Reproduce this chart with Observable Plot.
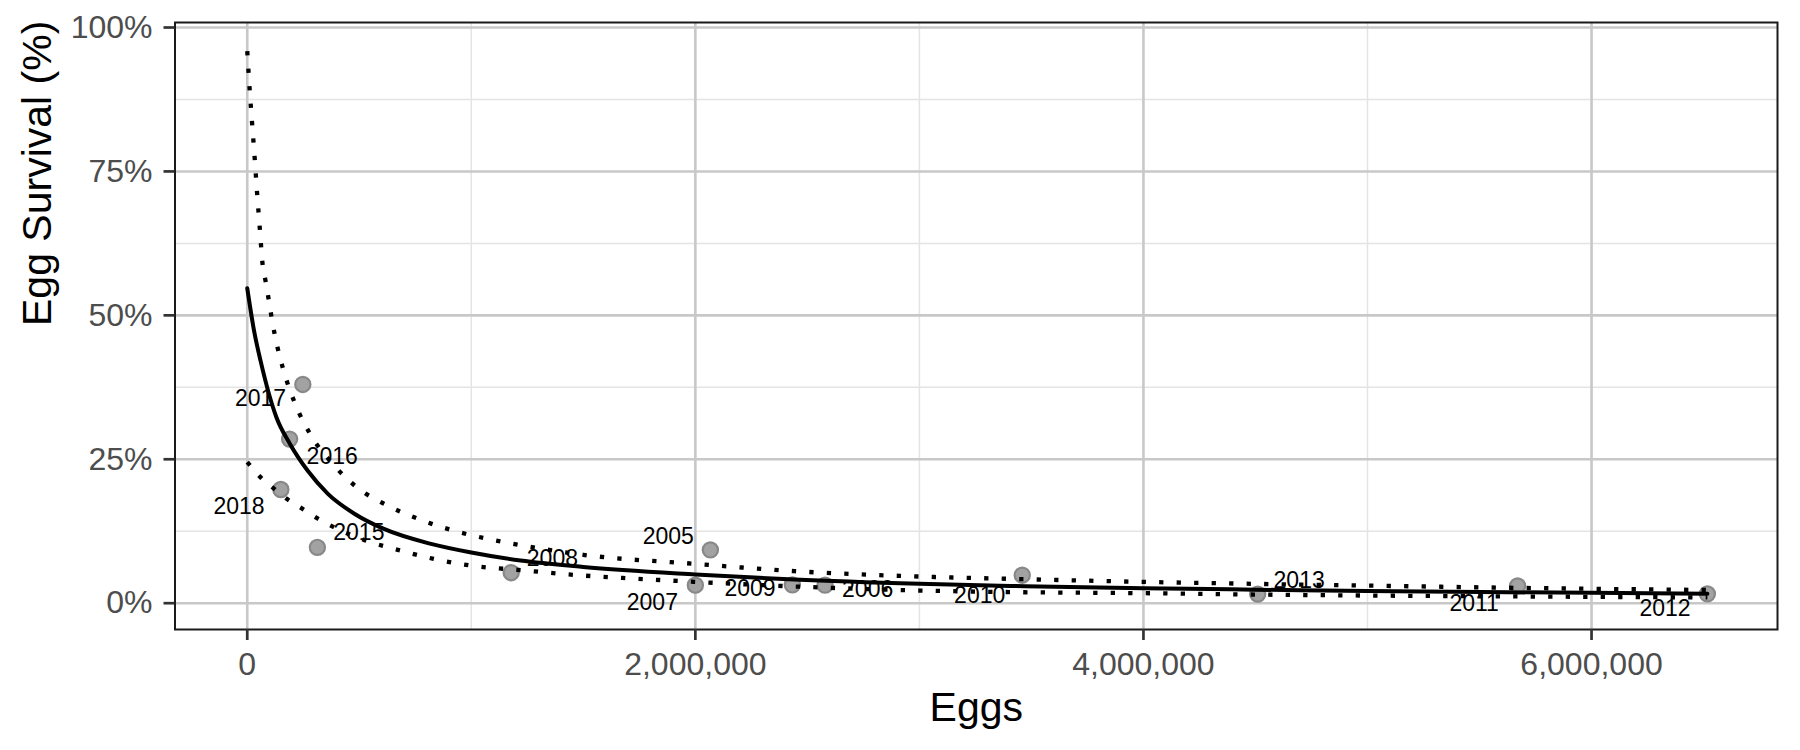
<!DOCTYPE html>
<html>
<head>
<meta charset="utf-8">
<script src="https://cdn.jsdelivr.net/npm/d3@7"></script>
<script src="https://cdn.jsdelivr.net/npm/@observablehq/plot@0.6"></script>
<style>
  html, body { margin: 0; padding: 0; background: #ffffff; }
  #chart svg { font-family: "Liberation Sans", Arial, Helvetica, sans-serif; }
</style>
</head>
<body>
<div id="chart"></div>
<script>
// ---- Observed points (eggs, survival fraction) ----
const years    = ["2017", "2016", "2018", "2015", "2008", "2005", "2007", "2009", "2006", "2010", "2013", "2011", "2012"];
const eggs     = [248000, 189000, 150000, 313000, 1178000, 2067000, 2000000, 2433000, 2579000, 3459000, 4510000, 5670000, 6517000];
const survival = [0.380, 0.285, 0.1975, 0.097, 0.053, 0.0926, 0.0313, 0.0318, 0.0313, 0.0486, 0.0158, 0.030, 0.0162];

// ---- Label anchor positions (data units) ----
const labelEggs     = [59000, 379000, -37000, 498000, 1362000, 1879000, 1808000, 2244000, 2769000, 3269000, 4695000, 5476000, 6328000];
const labelSurvival = [0.355, 0.255, 0.167, 0.123, 0.077, 0.116, 0.0017, 0.026, 0.023, 0.0133, 0.039, -0.001, -0.010];

// ---- Fitted curve ----
const fitEggs     = [0, 30000, 60000, 130000, 190000, 270000, 360000, 480000, 610000, 820000, 1000000, 1220000, 1500000, 2000000, 2440000, 3000000, 3470000, 4000000, 4500000, 5000000, 6000000, 6517000];
const fitSurvival = [0.547, 0.474, 0.420, 0.323, 0.277, 0.230, 0.190, 0.155, 0.129, 0.103, 0.088, 0.074, 0.063, 0.050, 0.041, 0.0336, 0.0295, 0.026, 0.0235, 0.021, 0.018, 0.0165];

// ---- Upper confidence bound ----
const upperEggs     = [0, 10000, 21000, 33000, 44000, 56000, 68000, 82000, 95000, 108000, 122000, 160000, 211000, 282000, 379000, 490000, 624000, 773000, 921000, 1070000, 1233000, 1500000, 2000000, 2444000, 3000000, 3469000, 4000000, 4495000, 5000000, 6000000, 6517000];
const upperSurvival = [0.959, 0.897, 0.837, 0.774, 0.712, 0.651, 0.590, 0.559, 0.529, 0.498, 0.468, 0.407, 0.349, 0.293, 0.243, 0.201, 0.170, 0.145, 0.126, 0.112, 0.100, 0.084, 0.0683, 0.0556, 0.0463, 0.0417, 0.037, 0.0336, 0.0305, 0.025, 0.023];

// ---- Lower confidence bound ----
const lowerEggs     = [0, 59000, 119000, 181000, 250000, 317000, 386000, 527000, 683000, 832000, 996000, 1233000, 1464000, 1674000, 2000000, 2444000, 3000000, 3469000, 4000000, 4495000, 5000000, 6000000, 6517000];
const lowerSurvival = [0.245, 0.219, 0.199, 0.180, 0.163, 0.1465, 0.132, 0.109, 0.0915, 0.077, 0.0655, 0.057, 0.049, 0.044, 0.037, 0.029, 0.022, 0.019, 0.0174, 0.015, 0.0133, 0.011, 0.010];

// ---- Axis ticks ----
const xTicks = [0, 2000000, 4000000, 6000000];
const xMinor = [1000000, 3000000, 5000000];
const yTicks = [0, 0.25, 0.5, 0.75, 1];
const yMinor = [0.125, 0.375, 0.625, 0.875];

// Tables built from the arrays
const points = years.map((yr, i) => ({year: yr, eggs: eggs[i], survival: survival[i]}));
const labels = years.map((yr, i) => ({year: yr, eggs: labelEggs[i], survival: labelSurvival[i]}));
const fit    = fitEggs.map((e, i) => ({eggs: e, survival: fitSurvival[i]}));
const upper  = upperEggs.map((e, i) => ({eggs: e, survival: upperSurvival[i]}));
const lower  = lowerEggs.map((e, i) => ({eggs: e, survival: lowerSurvival[i]}));

const FONT = "Liberation Sans, Arial, Helvetica, sans-serif";
const dotted = {stroke: "#000000", strokeWidth: 4.3, strokeDasharray: "4.3,13.2", strokeLinecap: "butt", curve: "monotone-x"};

const chart = Plot.plot({
  width: 1800,
  height: 750,
  marginLeft: 174.5,
  marginRight: 23,
  marginTop: 22,
  marginBottom: 121,
  style: {fontFamily: FONT, background: "#ffffff", overflow: "visible"},
  x: {domain: [-322500, 6830000], label: null},
  y: {domain: [-0.0457, 1.0087], label: null},
  marks: [
    // grid
    Plot.ruleX(xMinor, {stroke: "#e4e4e4", strokeWidth: 1.5}),
    Plot.ruleY(yMinor, {stroke: "#e4e4e4", strokeWidth: 1.5}),
    Plot.ruleX(xTicks, {stroke: "#c8c8c8", strokeWidth: 2.6}),
    Plot.ruleY(yTicks, {stroke: "#c8c8c8", strokeWidth: 2.6}),
    // points
    Plot.dot(points, {x: "eggs", y: "survival", r: 7.6, fill: "#a2a2a2", stroke: "#888888", strokeWidth: 2.2}),
    // curves
    Plot.line(upper, {x: "eggs", y: "survival", ...dotted}),
    Plot.line(lower, {x: "eggs", y: "survival", ...dotted}),
    Plot.line(fit, {x: "eggs", y: "survival", stroke: "#000000", strokeWidth: 4, curve: "monotone-x"}),
    // year labels
    Plot.text(labels, {x: "eggs", y: "survival", text: "year", fontSize: 23, fill: "#000000", textAnchor: "middle"}),
    // panel border
    Plot.frame({stroke: "#1a1a1a", strokeWidth: 2}),
    // axes
    Plot.axisX(xTicks, {tickSize: 11, tickPadding: 11.5, fontSize: 32, tickFormat: d3.format(","), stroke: "#333333", strokeWidth: 2.7, fill: "#4d4d4d", label: null}),
    Plot.axisY(yTicks, {tickSize: 11, tickPadding: 11.5, fontSize: 32, tickFormat: d3.format(".0%"), stroke: "#333333", strokeWidth: 2.7, fill: "#4d4d4d", label: null}),
    // axis titles
    Plot.text(["Eggs"], {frameAnchor: "bottom", dy: 62.7, lineAnchor: "top", fontSize: 41, fill: "#000000"}),
    Plot.text(["Egg Survival (%)"], {frameAnchor: "left", rotate: -90, dx: -137.6, lineAnchor: "middle", fontSize: 41, fill: "#000000"})
  ]
});

document.getElementById("chart").appendChild(chart);
</script>
</body>
</html>
